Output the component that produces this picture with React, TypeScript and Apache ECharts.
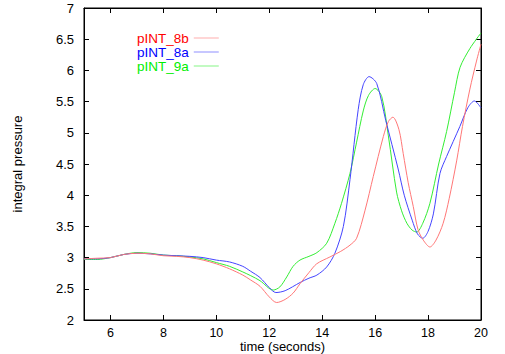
import React, { useEffect, useRef } from "react";
import * as echarts from "echarts";

const seriesNames = ["pINT_8b", "pINT_8a", "pINT_9a"];
const lineColors = ["#ff7777", "#4444ff", "#33ee33"];
const legendTextColors = ["#ff0000", "#0000ff", "#00ee00"];

const xTicks = [6, 8, 10, 12, 14, 16, 18, 20];

const redT = [5, 5.5, 6, 6.5, 7, 7.5, 8, 8.5, 9, 9.5, 10, 10.5, 11, 11.3, 11.65, 12.0, 12.28, 12.6, 12.9, 13.16, 13.5, 13.79, 14.29, 14.7, 15.05, 15.3, 15.62, 15.93, 16.31, 16.5, 16.67, 16.9, 17.06, 17.25, 17.44, 17.62, 17.82, 18.07, 18.3, 18.57, 18.8, 19.08, 19.3, 19.58, 19.83, 20];
const redV = [2.98, 2.99, 3.0, 3.05, 3.07, 3.06, 3.03, 3.02, 3.0, 2.96, 2.9, 2.82, 2.72, 2.64, 2.54, 2.37, 2.28, 2.33, 2.43, 2.58, 2.76, 2.9, 3.01, 3.1, 3.2, 3.31, 3.76, 4.3, 4.94, 5.18, 5.25, 5.05, 4.67, 4.2, 3.82, 3.45, 3.28, 3.17, 3.28, 3.55, 3.95, 4.55, 5.1, 5.7, 6.15, 6.42];

const blueT = [5, 5.5, 6, 6.5, 7, 7.5, 8, 8.5, 9, 9.5, 10, 10.5, 11, 11.3, 11.65, 12, 12.25, 12.6, 13.16, 13.5, 13.8, 14.17, 14.48, 14.8, 15.05, 15.36, 15.55, 15.77, 16.06, 16.4, 16.87, 17.1, 17.4, 17.6, 17.8, 18.0, 18.2, 18.45, 18.7, 19.2, 19.5, 19.75, 20];
const blueV = [2.98, 2.98, 3.0, 3.05, 3.07, 3.06, 3.04, 3.03, 3.02, 3.0, 2.96, 2.93, 2.86, 2.78, 2.68, 2.52, 2.44, 2.47, 2.6, 2.67, 2.72, 2.85, 3.07, 3.5, 4.25, 5.37, 5.77, 5.9, 5.79, 5.2, 4.42, 4.0, 3.6, 3.38, 3.31, 3.42, 3.7, 4.35, 4.62, 5.1, 5.4, 5.51, 5.4];

const greenT = [5, 5.5, 6, 6.5, 7, 7.5, 8, 8.5, 9, 9.5, 10, 10.5, 11, 11.3, 11.65, 12.15, 12.4, 12.66, 12.9, 13.16, 13.5, 13.8, 14.17, 14.48, 14.73, 15.05, 15.3, 15.55, 15.75, 16.0, 16.25, 16.5, 16.81, 17.0, 17.2, 17.4, 17.57, 17.8, 18.07, 18.4, 18.7, 19.0, 19.21, 19.58, 20];
const greenV = [2.97, 2.97, 3.0, 3.05, 3.08, 3.07, 3.04, 3.03, 3.01, 2.98, 2.92, 2.86, 2.77, 2.71, 2.63, 2.48, 2.53, 2.69, 2.86, 2.96, 3.02, 3.08, 3.23, 3.55, 3.87, 4.35, 4.85, 5.35, 5.6, 5.71, 5.58, 4.95, 4.05, 3.75, 3.55, 3.44, 3.41, 3.55, 3.87, 4.5, 5.02, 5.65, 6.05, 6.35, 6.6];

const zip = (t: number[], v: number[]) => t.map((x, i) => [x, v[i]]);

export default function App() {
  const ref = useRef<HTMLDivElement>(null);
  useEffect(() => {
    if (!ref.current) return;
    const chart = echarts.init(ref.current, null, { renderer: "svg" });
    const font = "Liberation Sans, Arial, Helvetica, sans-serif";
    const tickCommon = {
      show: true,
      inside: true,
      length: 5,
      lineStyle: { color: "#000", width: 1 },
    };
    const dataSets = [zip(redT, redV), zip(blueT, blueV), zip(greenT, greenV)];
    chart.setOption({
      animation: false,
      backgroundColor: "#fff",
      textStyle: { fontFamily: font },
      grid: {
        left: 84,
        right: 24,
        top: 8,
        bottom: 34,
        show: true,
        borderColor: "#000",
        borderWidth: 1,
        backgroundColor: "transparent",
        outerBoundsMode: "none",
        containLabel: false,
      },
      legend: {
        orient: "vertical",
        left: 137,
        top: 31,
        align: "right",
        itemGap: 0,
        itemWidth: 25,
        itemHeight: 1,
        icon: "rect",
        padding: 0,
        itemStyle: { borderWidth: 0, opacity: 0.6 },
        lineStyle: { width: 1 },
        textStyle: { fontSize: 13.5, lineHeight: 14, fontFamily: font },
        data: seriesNames.map((n, i) => ({ name: n, textStyle: { color: legendTextColors[i] } })),
      },
      xAxis: [
        {
          type: "value",
          min: 5,
          max: 20,
          position: "bottom",
          axisLine: { show: true, lineStyle: { color: "#000" } },
          axisTick: { ...tickCommon, customValues: xTicks },
          axisLabel: { customValues: xTicks, fontSize: 12.5, lineHeight: 12, color: "#000", margin: 7, fontFamily: font },
          splitLine: { show: false },
          name: "time (seconds)",
          nameLocation: "middle",
          nameGap: 20,
          nameMoveOverlap: false,
          nameTextStyle: { fontSize: 13, lineHeight: 13, color: "#000", fontFamily: font },
        },
        {
          type: "value",
          min: 5,
          max: 20,
          position: "top",
          axisLine: { show: true, lineStyle: { color: "#000" } },
          axisTick: { ...tickCommon, customValues: xTicks },
          axisLabel: { show: false },
          splitLine: { show: false },
        },
      ],
      yAxis: [
        {
          type: "value",
          min: 2,
          max: 7,
          interval: 0.5,
          position: "left",
          axisLine: { show: true, lineStyle: { color: "#000" } },
          axisTick: tickCommon,
          axisLabel: { fontSize: 13, color: "#000", margin: 10, fontFamily: font },
          splitLine: { show: false },
          name: "integral pressure",
          nameLocation: "middle",
          nameGap: 60,
          nameMoveOverlap: false,
          nameTextStyle: { fontSize: 13, color: "#000", fontFamily: font },
        },
        {
          type: "value",
          min: 2,
          max: 7,
          interval: 0.5,
          position: "right",
          axisLine: { show: true, lineStyle: { color: "#000" } },
          axisTick: tickCommon,
          axisLabel: { show: false },
          splitLine: { show: false },
        },
      ],
      series: seriesNames.map((n, i) => ({
        name: n,
        type: "line",
        data: dataSets[i],
        smooth: 0.3,
        symbol: "none",
        color: lineColors[i],
        lineStyle: { width: 1, color: lineColors[i] },
        z: 3 - i,
      })),
    });
    return () => chart.dispose();
  }, []);
  return <div ref={ref} style={{ width: 505, height: 354, position: "absolute", left: 0, top: 0 }} />;
}
